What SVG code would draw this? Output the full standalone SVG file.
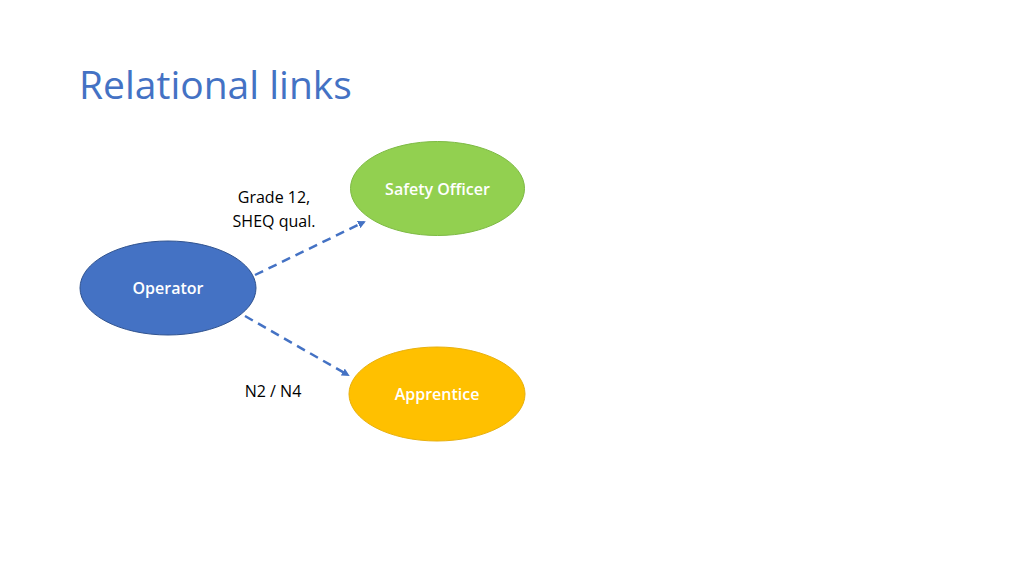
<svg xmlns="http://www.w3.org/2000/svg" width="1024" height="576" viewBox="0 0 1024 576">
<style>
.title{font-family:"Open Sans","Liberation Sans",sans-serif;font-size:39px;fill:#4472C4}
.lbl{font-family:"Open Sans","Liberation Sans",sans-serif;font-size:16px;fill:#000;text-anchor:middle}
.nt{font-family:"Open Sans","Liberation Sans",sans-serif;font-size:16px;font-weight:600;fill:#fff;text-anchor:middle}
.conn{stroke:#4472C4;stroke-width:2.5;stroke-dasharray:9 6;fill:none}
</style>
<defs>
<marker id="ah" markerWidth="8" markerHeight="8" refX="6" refY="4" orient="auto" markerUnits="userSpaceOnUse">
<path d="M0,0 L8,4 L0,8 z" fill="#4472C4"/>
</marker>
</defs>
<rect width="1024" height="576" fill="#fff"/>
<text class="title" x="79" y="99">Relational links</text>
<g id="connectors">
<line class="conn" x1="255" y1="275" x2="364" y2="222" marker-end="url(#ah)"/>
<line class="conn" x1="245" y1="316" x2="348" y2="375" marker-end="url(#ah)"/>
</g>
<g id="label-grade">
<text class="lbl" x="274" y="203">Grade 12,</text>
<text class="lbl" x="274" y="227">SHEQ qual.</text>
</g>
<text class="lbl" id="label-n2" x="273" y="397">N2 / N4</text>
<g id="safety-officer">
<ellipse cx="437.5" cy="188.5" rx="87" ry="47" fill="#92D050" stroke="#7DBA43" stroke-width="1"/>
<text class="nt" x="437.5" y="195">Safety Officer</text>
</g>
<g id="operator">
<ellipse cx="168" cy="288" rx="88" ry="47" fill="#4472C4" stroke="#2F528F" stroke-width="1"/>
<text class="nt" x="168" y="294">Operator</text>
</g>
<g id="apprentice">
<ellipse cx="437" cy="394" rx="88" ry="47" fill="#FFC000" stroke="#E8B00C" stroke-width="1"/>
<text class="nt" x="437" y="400">Apprentice</text>
</g>
</svg>
